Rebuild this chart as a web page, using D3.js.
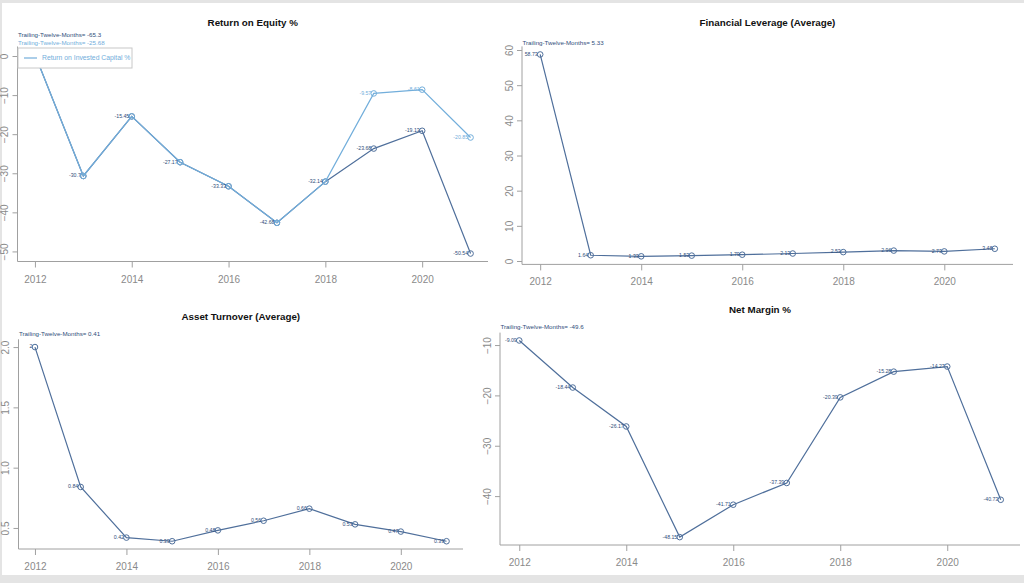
<!DOCTYPE html>
<html>
<head>
<meta charset="utf-8">
<script src="https://cdn.jsdelivr.net/npm/d3@7/dist/d3.min.js"></script>
<style>
  html, body { margin: 0; padding: 0; background: #fff; }
  svg { display: block; font-family: "Liberation Sans", Arial, sans-serif; }
</style>
</head>
<body>
<svg id="chart" width="1024" height="583"></svg>
<script>
// ---------- DATA ----------
const years = [2012, 2013, 2014, 2015, 2016, 2017, 2018, 2019, 2020, 2021];
const xTicks = [2012, 2014, 2016, 2018, 2020];

const roe  = [0.4, -30.7, -15.45, -27.17, -33.33, -42.68, -32.14, -23.68, -19.13, -50.54];
const roic = [0.4, -30.7, -15.45, -27.17, -33.33, -42.68, -32.14, -9.57, -8.61, -20.85];
const roeLabels  = ["", "-30.7", "-15.45", "-27.17", "-33.33", "-42.68", "-32.14", "-23.68", "-19.13", "-50.54"];
const roicLabels = ["", "", "", "", "", "", "", "-9.57", "-8.61", "-20.85"];
const roeTicks = [0, -10, -20, -30, -40, -50];

const leverage = [58.73, 1.64, 1.33, 1.53, 1.79, 2.13, 2.53, 2.96, 2.73, 3.48];
const leverageTicks = [0, 10, 20, 30, 40, 50, 60];

const turnover = [2.0, 0.84, 0.42, 0.39, 0.48, 0.56, 0.66, 0.53, 0.47, 0.39];
const turnoverTicks = [0.5, 1.0, 1.5, 2.0];

const netMargin = [-9.09, -18.44, -26.17, -48.15, -41.71, -37.39, -20.39, -15.28, -14.27, -40.73];
const netMarginTicks = [-10, -20, -30, -40];

const ttm = { roe: "-65.3", roic: "-25.68", leverage: "5.33", turnover: "0.41", netMargin: "-49.6" };

// ---------- STYLE ----------
const DARK = "#4f6f9b";
const DARK_TXT = "#2f4d7a";
const LIGHT = "#72aedb";
const AXIS = "#a0a0a0";
const TICK_TXT = "#8a8a8a";

const svg = d3.select("#chart");

// page frame
svg.append("rect").attr("x", 0).attr("y", 0).attr("width", 1024).attr("height", 583).attr("fill", "#e4e4e4");
svg.append("rect").attr("x", 2).attr("y", 3).attr("width", 1022).attr("height", 572).attr("fill", "#ffffff");

function fmtLabel(v, digits) {
  return v.toFixed(digits).replace(/\.?0+$/, "");
}

function panel(cfg) {
  const g = svg.append("g");
  const [x0, x1] = cfg.xr, [y0, y1] = cfg.yr;
  const xs = d3.scaleLinear().domain([2012 - 0.36, 2021 + 0.36]).range([x0, x1]);
  const all = cfg.series.flatMap(s => s.values);
  const mn = d3.min(all), mx = d3.max(all);
  const pad = (mx - mn) * 0.04;
  const ys = d3.scaleLinear().domain([mn - pad, mx + pad]).range([y1, y0]);

  // L-box
  g.append("path")
    .attr("d", `M${x0},${y0}V${y1}H${x1}`)
    .attr("fill", "none").attr("stroke", AXIS).attr("stroke-width", 1);

  // x axis
  const xa = d3.axisBottom(xs).tickValues(xTicks).tickFormat(d3.format("d")).tickSize(6).tickPadding(8);
  const gx = g.append("g").attr("transform", `translate(0,${y1})`).call(xa);
  gx.select(".domain").remove();
  gx.selectAll("line").attr("stroke", AXIS);
  gx.selectAll("text").attr("fill", TICK_TXT).attr("font-size", 10);

  // y axis
  const ya = d3.axisLeft(ys).tickValues(cfg.yTicks).tickFormat(cfg.yFmt).tickSize(5).tickPadding(0);
  const gy = g.append("g").attr("transform", `translate(${x0},0)`).call(ya);
  gy.select(".domain").remove();
  gy.selectAll("line").attr("stroke", AXIS);
  gy.selectAll("text")
    .attr("fill", TICK_TXT).attr("font-size", 10)
    .attr("x", null).attr("dy", null)
    .attr("text-anchor", "middle")
    .attr("transform", "translate(-12,0) rotate(-90)")
    .attr("dominant-baseline", "middle");

  // title
  g.append("text").attr("x", (x0 + x1) / 2).attr("y", cfg.titleY)
    .attr("text-anchor", "middle").attr("font-weight", "bold").attr("font-size", 9.8)
    .attr("fill", "#111").text(cfg.title);

  // TTM notes
  cfg.ttm.forEach((t, i) => {
    g.append("text").attr("x", x0 + 0.5).attr("y", cfg.ttmY + i * 8)
      .attr("font-size", 6.2).attr("fill", t.color)
      .text("Trailing-Twelve-Months= " + t.text);
  });

  const line = d3.line().x((d, i) => xs(years[i])).y(d => ys(d));

  cfg.series.forEach(s => {
    g.append("path").datum(s.values).attr("d", line)
      .attr("fill", "none").attr("stroke", s.color).attr("stroke-width", 1.2);
    g.selectAll(null).data(s.values).enter().append("circle")
      .attr("cx", (d, i) => xs(years[i])).attr("cy", d => ys(d)).attr("r", 2.8)
      .attr("fill", "none").attr("stroke", s.color).attr("stroke-width", 1);
  });
  cfg.series.forEach(s => {
    g.selectAll(null).data(s.values).enter().append("text")
      .attr("x", (d, i) => xs(years[i]) - 2.5).attr("y", d => ys(d))
      .attr("text-anchor", "end").attr("dominant-baseline", "middle")
      .attr("font-size", 5.2).attr("fill", s.txt)
      .text((d, i) => s.labels ? s.labels[i] : fmtLabel(d, 2));
  });
  return g;
}

// Panel 1: ROE
const g1 = panel({
  xr: [17.5, 488], yr: [46.5, 261.5], titleY: 26, title: "Return on Equity %",
  yTicks: roeTicks, yFmt: d3.format("d"),
  ttmY: 37,
  ttm: [{ text: ttm.roe, color: DARK_TXT }, { text: ttm.roic, color: LIGHT }],
  series: [
    { values: roe, color: DARK, txt: DARK_TXT, labels: roeLabels },
    { values: roic, color: LIGHT, txt: LIGHT, labels: roicLabels }
  ]
});
// legend
g1.append("rect").attr("x", 18).attr("y", 48).attr("width", 114).attr("height", 20)
  .attr("fill", "#fff").attr("stroke", "#c8c8c8").attr("stroke-width", 1);
g1.append("line").attr("x1", 24).attr("x2", 37).attr("y1", 58).attr("y2", 58)
  .attr("stroke", LIGHT).attr("stroke-width", 1.2);
g1.append("text").attr("x", 42).attr("y", 58).attr("dominant-baseline", "middle")
  .attr("font-size", 6.8).attr("fill", LIGHT).text("Return on Invested Capital %");

// Panel 2: Financial Leverage
panel({
  xr: [522, 1013], yr: [46.4, 264.4], titleY: 26, title: "Financial Leverage (Average)",
  yTicks: leverageTicks, yFmt: d3.format("d"),
  ttmY: 45,
  ttm: [{ text: ttm.leverage, color: DARK_TXT }],
  series: [{ values: leverage, color: DARK, txt: DARK_TXT }]
});

// Panel 3: Asset Turnover
panel({
  xr: [18.5, 463], yr: [339.3, 549], titleY: 320, title: "Asset Turnover (Average)",
  yTicks: turnoverTicks, yFmt: d3.format(".1f"),
  ttmY: 336,
  ttm: [{ text: ttm.turnover, color: DARK_TXT }],
  series: [{ values: turnover, color: DARK, txt: DARK_TXT }]
});

// Panel 4: Net Margin
panel({
  xr: [500, 1020], yr: [332.6, 545], titleY: 313, title: "Net Margin %",
  yTicks: netMarginTicks, yFmt: d3.format("d"),
  ttmY: 329,
  ttm: [{ text: ttm.netMargin, color: DARK_TXT }],
  series: [{ values: netMargin, color: DARK, txt: DARK_TXT }]
});
</script>
</body>
</html>
